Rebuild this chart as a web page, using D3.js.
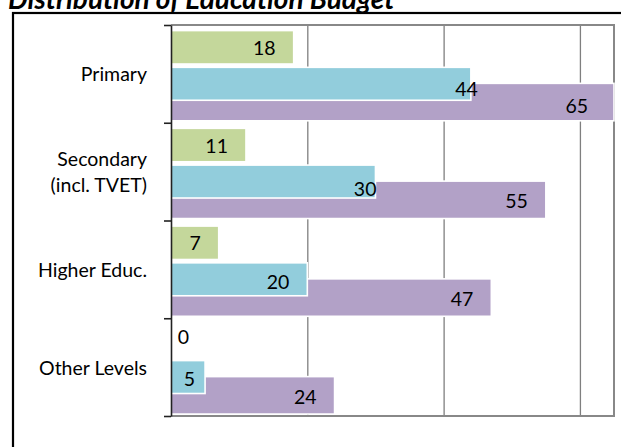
<!DOCTYPE html>
<html>
<head>
<meta charset="utf-8">
<script src="https://cdn.jsdelivr.net/npm/d3@7"></script>
<style>
  body { margin: 0; background: #fff; overflow: hidden; }
  text { font-family: Lato, "Open Sans", sans-serif; fill: #000; }
</style>
</head>
<body>
<svg id="chart" width="621" height="447"></svg>
<script>
// chart values
var categories = ["Primary", "Secondary\n(incl. TVET)", "Higher Educ.", "Other Levels"];
var greenValues = [18, 11, 7, 0];
var blueValues = [44, 30, 20, 5];
var purpleValues = [65, 55, 47, 24];
var gridTicks = [20, 40, 60];

var config = {
    width: 621,
    height: 447,
    plot_left: 171,
    plot_right: 614,
    plot_top: 25,
    plot_bottom: 416,
    x_max: 65
};

// where each series sits inside a category band (fractions of the band)
var series = [
    { values: purpleValues, color: "#b2a1c7", top: 0.597, size: 0.383, labelY: 0.875 },
    { values: blueValues,   color: "#92cddc", top: 0.433, size: 0.337, labelY: 0.70 },
    { values: greenValues,  color: "#c4d79b", top: 0.057, size: 0.342, labelY: 0.305 }
];

// hand nudges for the labels Excel placed oddly: [series index, category index, dx, dy]
var labelNudge = [
    [1, 0, 25, 3], [1, 1, 19, 5], [1, 3, 8, -1],
    [0, 0, -8, 2],
    [2, 3, 36, -4]
];

var svg = d3.select("#chart");

var x = d3.scaleLinear()
          .domain([0, config.x_max])
          .range([config.plot_left, config.plot_right]);

var y = d3.scaleBand()
          .domain(categories)
          .range([config.plot_top, config.plot_bottom]);

var bandEdges = d3.scaleLinear()
                  .domain([0, categories.length])
                  .range([config.plot_top, config.plot_bottom]);

// outer chart frame
svg.append("rect")
   .attr("x", 13).attr("y", 13)
   .attr("width", 700).attr("height", 500)
   .attr("fill", "none")
   .attr("stroke", "#000")
   .attr("stroke-width", 2.2);

// title, mostly cut off by the top edge (as in the original)
svg.append("text")
   .attr("x", 8)
   .attr("y", 9)
   .style("font-size", "28px")
   .style("font-weight", "bold")
   .style("font-style", "italic")
   .text("Distribution of Education Budget");

// gridlines
var grid = svg.append("g")
   .attr("transform", "translate(0," + config.plot_bottom + ")")
   .call(d3.axisBottom(x)
           .tickValues(gridTicks)
           .tickSize(-(config.plot_bottom - config.plot_top))
           .tickFormat(""));
grid.select(".domain").remove();
grid.selectAll("line").attr("stroke", "#7f7f7f").attr("stroke-width", 1.3);

// plot border (top, right, bottom)
svg.append("path")
   .attr("d", "M" + config.plot_left + "," + config.plot_top +
              "H" + config.plot_right + "V" + config.plot_bottom +
              "H" + config.plot_left)
   .attr("fill", "none")
   .attr("stroke", "#888")
   .attr("stroke-width", 2);

// bars
series.forEach(function (s) {
    svg.append("g")
       .selectAll("rect")
       .data(s.values)
       .enter().append("rect")
       .attr("x", x(0))
       .attr("y", function (d, i) { return y(categories[i]) + y.bandwidth() * s.top; })
       .attr("width", function (d) { return Math.max(0, x(d) - x(0)); })
       .attr("height", y.bandwidth() * s.size)
       .attr("fill", s.color)
       .attr("stroke", "#fff")
       .attr("stroke-width", 1.6)
       .style("display", function (d) { return d > 0 ? null : "none"; });
});

// value labels
function nudgeFor(si, ci) {
    var n = labelNudge.find(function (e) { return e[0] === si && e[1] === ci; });
    return n ? [n[2], n[3]] : [0, 0];
}

series.forEach(function (s, si) {
    svg.append("g")
       .selectAll("text")
       .data(s.values)
       .enter().append("text")
       .attr("x", function (d, i) { return x(d) - 18 + nudgeFor(si, i)[0]; })
       .attr("y", function (d, i) { return y(categories[i]) + y.bandwidth() * s.labelY + nudgeFor(si, i)[1]; })
       .attr("text-anchor", "end")
       .style("font-size", "19.5px")
       .text(function (d) { return d; });
});

// left axis: ticks on the band edges
var axis = svg.append("g")
   .attr("transform", "translate(" + config.plot_left + ",0)")
   .call(d3.axisLeft(bandEdges)
           .tickValues(d3.range(categories.length + 1))
           .tickSize(7)
           .tickSizeOuter(0)
           .tickFormat(""));
axis.select(".domain").attr("stroke", "#222").attr("stroke-width", 1.6);
axis.selectAll("line").attr("stroke", "#222").attr("stroke-width", 1.6);

// category labels
var catLabels = svg.append("g")
   .selectAll("text")
   .data(categories)
   .enter().append("text")
   .attr("text-anchor", "end")
   .style("font-size", "19.5px")
   .attr("y", function (d) {
       var lines = d.split("\n").length;
       return y(d) + y.bandwidth() / 2 + 7.5 - (lines - 1) * 12.8;
   });

catLabels.each(function (d) {
    var t = d3.select(this);
    d.split("\n").forEach(function (line, k) {
        t.append("tspan")
         .attr("x", 147)
         .attr("dy", k === 0 ? 0 : 25.6)
         .text(line);
    });
});
</script>
</body>
</html>
